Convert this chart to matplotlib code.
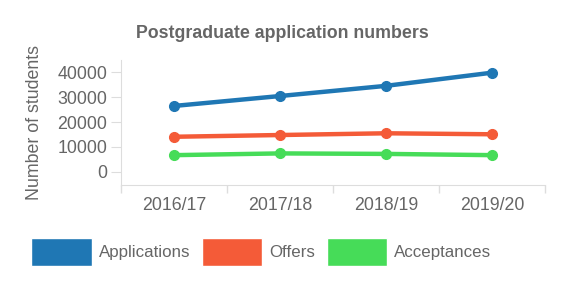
import matplotlib.pyplot as plt
from matplotlib.patches import Patch

years = ["2016/17", "2017/18", "2018/19", "2019/20"]
applications = [26500, 30500, 34600, 39900]
offers = [14100, 14800, 15500, 15100]
acceptances = [6700, 7400, 7200, 6700]

names = ["Applications", "Offers", "Acceptances"]
colors = ["#1f77b4", "#f45b38", "#46dc58"]
gray = "#666666"

plt.rcParams['font.family'] = ['Liberation Sans', 'DejaVu Sans']

fig = plt.figure(figsize=(5.61, 2.89), dpi=100)
ax = fig.add_axes([0.2157, 0.36, 0.756, 0.4324])

x = [0.5, 1.5, 2.5, 3.5]
for vals, c in zip([applications, offers, acceptances], colors):
    ax.plot(x, vals, color=c, lw=3.2, marker="o", ms=7, solid_capstyle="round")

ax.set_xlim(0, 4)
ax.set_ylim(-5300, 45000)
ax.set_yticks([0, 10000, 20000, 30000, 40000])
ax.set_xticks([0, 1, 2, 3, 4])
ax.set_xticklabels([])
ax.set_xticks(x, minor=True)
ax.set_xticklabels(years, minor=True)
ax.tick_params(axis="x", which="minor", length=0, labelsize=12.8, labelcolor=gray, pad=9)
ax.tick_params(axis="x", which="major", length=6, color="#dddddd", width=1)
ax.tick_params(axis="y", length=7, color="#dddddd", labelsize=12.8, labelcolor=gray, pad=3)

for s in ["top", "right"]:
    ax.spines[s].set_visible(False)
for s in ["left", "bottom"]:
    ax.spines[s].set_color("#dddddd")

ax.set_ylabel("Number of students", fontsize=12.8, color=gray, labelpad=10)
fig.text(0.503, 0.885, "Postgraduate application numbers", ha="center", va="center",
         fontsize=12.8, fontweight="bold", color=gray)

handles = [Patch(facecolor=c, edgecolor="white") for c in colors]
fig.legend(handles, names, loc="center", bbox_to_anchor=(0.466, 0.128), ncol=3,
           frameon=False, fontsize=12.2, labelcolor=gray, handlelength=3.55,
           handleheight=2.1, handletextpad=0.41, columnspacing=0.71)

fig.savefig("out.png", dpi=100)
